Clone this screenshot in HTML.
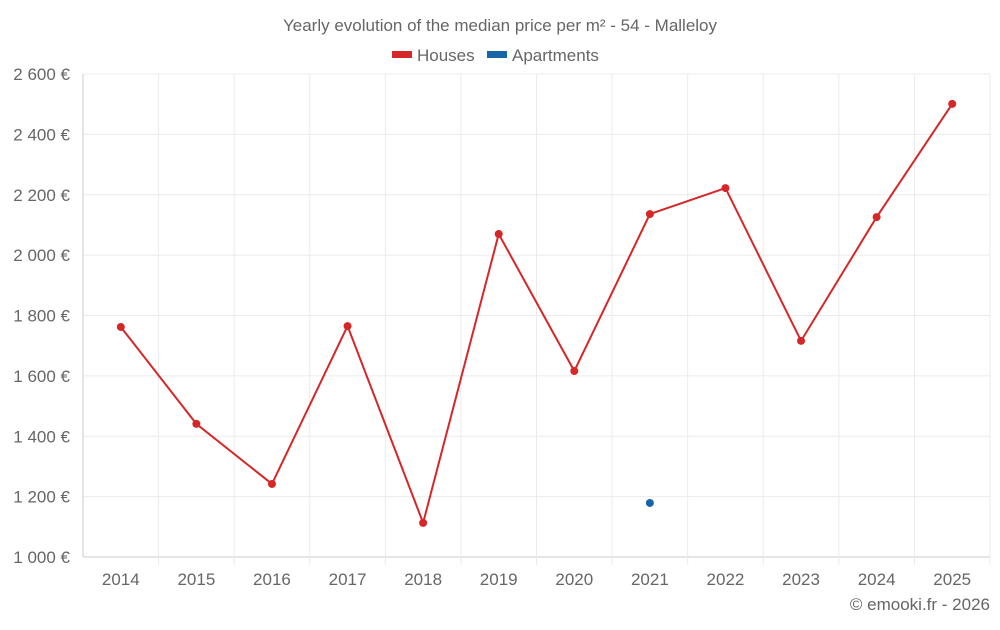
<!DOCTYPE html>
<html><head><meta charset="utf-8"><style>
body{margin:0;background:#fff;font-family:"Liberation Sans",sans-serif}
svg text{font-family:"Liberation Sans",sans-serif;fill:#666}
</style></head><body>
<svg id="c" width="1000" height="625">
<text x="500" y="31" text-anchor="middle" font-size="17">Yearly evolution of the median price per m² - 54 - Malleloy</text>
<g>
<rect x="392" y="51" width="20" height="7" fill="#d62728"/>
<text x="417" y="61" font-size="17">Houses</text>
<rect x="487" y="51" width="20" height="7" fill="#1565a8"/>
<text x="512" y="61" font-size="17">Apartments</text>
</g>
<g id="grid"></g><g id="axes"></g><g id="marks"></g>
<text x="990" y="610" text-anchor="end" font-size="17">© emooki.fr - 2026</text>
</svg>
<script>
const years=[2014,2015,2016,2017,2018,2019,2020,2021,2022,2023,2024,2025];
const houses=[1762,1441,1242,1765,1113,2070,1616,2136,2222,1716,2126,2501];
const apartments=[null,null,null,null,null,null,null,1179,null,null,null,null];
const yTicks=[1000,1200,1400,1600,1800,2000,2200,2400,2600];
const yTickLabels=["1 000 €","1 200 €","1 400 €","1 600 €","1 800 €","2 000 €","2 200 €","2 400 €","2 600 €"];
const L=83,R=990,T=74,B=557,yMin=1000,yMax=2600;
const step=(R-L)/years.length;
const x=i=>L+step*(i+0.5);
const y=v=>B-(v-yMin)/(yMax-yMin)*(B-T);
const ns="http://www.w3.org/2000/svg";
function mk(tag,attrs,parent){const e=document.createElementNS(ns,tag);for(const k in attrs)e.setAttribute(k,attrs[k]);document.getElementById(parent).appendChild(e);return e;}
yTicks.forEach((t,i)=>{
 const g=mk('line',{x1:L,x2:R,y1:y(t),y2:y(t),stroke:i==0?'#ccc':'#ebebeb'},'grid');
 
 
 const tx=mk('text',{x:70,y:y(t)+6,'text-anchor':'end','font-size':17},'axes');
 tx.textContent=yTickLabels[i];
 
 
});
for(let i=0;i<=years.length;i++){
 const g=mk('line',{x1:L+step*i,x2:L+step*i,y1:T,y2:i==0?B:B+8,stroke:i==0?'#ccc':'#ebebeb'},'grid');
 
 
}
years.forEach((yr,i)=>{
 const tx=mk('text',{x:x(i),y:585,'text-anchor':'middle','font-size':17},'axes');
 tx.textContent=yr;
 
 
});
const pl=mk('polyline',{points:houses.map((v,i)=>x(i)+','+y(v)).join(' '),fill:'none',stroke:'#d62728','stroke-width':2},'marks');


houses.forEach((v,i)=>{
 const c=mk('circle',{cx:x(i),cy:y(v),r:4,fill:'#d62728'},'marks');
 
 
});
apartments.forEach((v,i)=>{
 if(v==null)return;
 const c=mk('circle',{cx:x(i),cy:y(v),r:4,fill:'#1565a8'},'marks');
 
 
});
</script>
</body></html>
